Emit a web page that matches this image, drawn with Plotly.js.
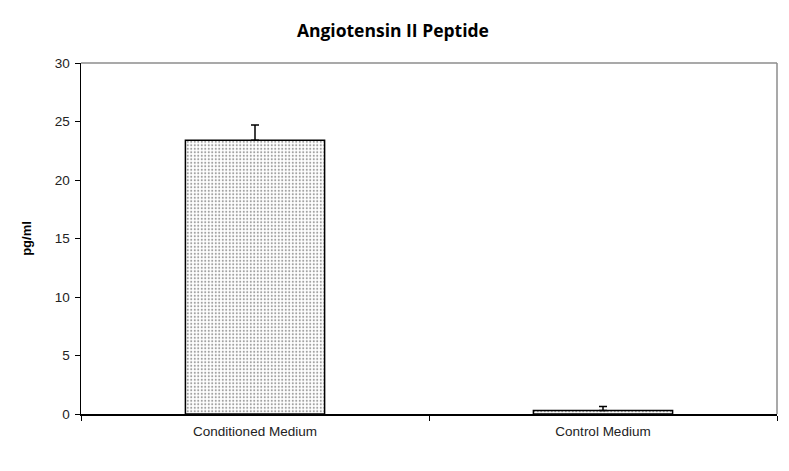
<!DOCTYPE html>
<html>
<head>
<meta charset="utf-8">
<script src="https://cdn.plot.ly/plotly-3.0.1.min.js"></script>
<style>html,body{margin:0;padding:0;background:#fff;}#chart{width:789px;height:471px;}</style>
</head>
<body>
<div id="chart"></div>
<script>
var categories = ["Conditioned Medium", "Control Medium"];
var values = [23.4, 0.3];
var errorsUp = [1.3, 0.35];
var yTicks = [0, 5, 10, 15, 20, 25, 30];

var trace = {
  type: "bar",
  x: categories,
  y: values,
  width: 0.4,
  marker: {
    color: "#ffffff",
    line: {color: "#000000", width: 1.5},
    pattern: {shape: ".", fgcolor: "#a0a0a0", bgcolor: "#ffffff", size: 3.5, solidity: 0.28}
  },
  error_y: {
    type: "data",
    symmetric: false,
    array: errorsUp,
    arrayminus: [0, 0],
    color: "#000000",
    thickness: 1.5,
    width: 4
  },
  hoverinfo: "none"
};

var layout = {
  width: 789,
  height: 471,
  margin: {l: 81, r: 12, t: 63, b: 57},
  paper_bgcolor: "#ffffff",
  plot_bgcolor: "#ffffff",
  showlegend: false,
  title: {
    text: "<b>Angiotensin II Peptide</b>",
    font: {family: "Open Sans, sans-serif", size: 17.5, color: "#000000"},
    x: 0.498, xanchor: "center",
    y: 0.935, yanchor: "middle"
  },
  xaxis: {
    type: "category",
    showgrid: false,
    showline: true,
    linecolor: "#000000",
    linewidth: 1.5,
    ticks: "outside",
    tickson: "boundaries",
    ticklen: 5,
    tickcolor: "#000000",
    ticklabelstandoff: 4,
    tickfont: {family: "Liberation Sans, Arial, sans-serif", size: 13.5, color: "#222222"},
    zeroline: false,
    fixedrange: true
  },
  yaxis: {
    range: [0, 30],
    tickvals: yTicks,
    ticktext: yTicks.map(String),
    showgrid: false,
    showline: true,
    linecolor: "#000000",
    linewidth: 1.5,
    ticks: "outside",
    ticklen: 5,
    tickcolor: "#000000",
    ticklabelstandoff: 2,
    tickfont: {family: "Liberation Sans, Arial, sans-serif", size: 13.5, color: "#222222"},
    zeroline: false,
    title: {
      text: "<b>pg/ml</b>",
      font: {family: "Liberation Sans, Arial, sans-serif", size: 13, color: "#000000"},
      standoff: 20
    },
    fixedrange: true
  },
  shapes: [
    {type: "line", xref: "paper", yref: "paper", x0: 0, x1: 1, y0: 1, y1: 1, line: {color: "#8c8c8c", width: 1.5}},
    {type: "line", xref: "paper", yref: "paper", x0: 1, x1: 1, y0: 0, y1: 1, line: {color: "#8c8c8c", width: 1.5}}
  ]
};

Plotly.newPlot("chart", [trace], layout, {displayModeBar: false, staticPlot: true});
</script>
</body>
</html>
